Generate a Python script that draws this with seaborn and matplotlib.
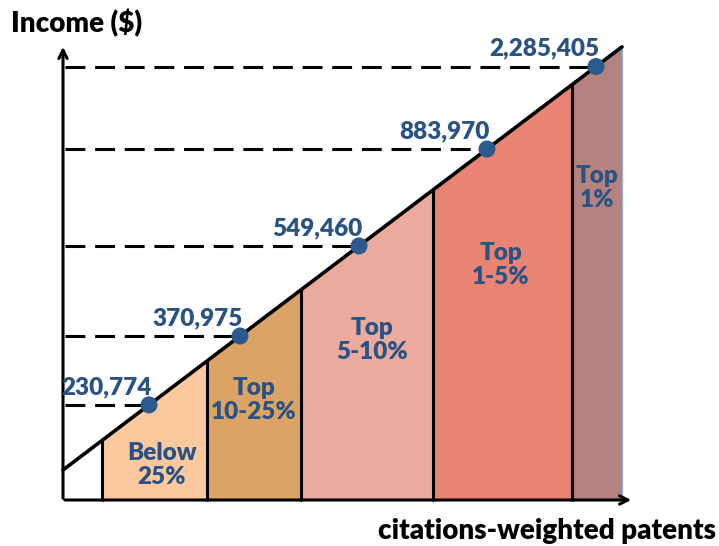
import numpy as np
import pandas as pd
import seaborn as sns
import matplotlib.pyplot as plt

sns.set_theme(style="white")
plt.rcParams['font.family'] = ['Lato', 'DejaVu Sans']

# schematic income line: income = intercept + slope * patents (drawing units)
line_intercept = 30
line_slope = 0.757
line_end = 559

# group boundaries along the patents axis
group_edges = [0, 39, 144, 238, 370, 509, 559]
group_names = ["", "Below\n25%", "Top\n10-25%", "Top\n5-10%", "Top\n1-5%", "Top\n1%"]
group_colors = ["#FFFFFF", "#FCC99E", "#DBA466", "#EAAA9E", "#E98373", "#B5837F"]

# income thresholds marked on the line
point_patents = [86, 177, 296, 424, 533]
point_labels = ["230,774", "370,975", "549,460", "883,970", "2,285,405"]

# layout of the group captions
caption_x = [None, 99, 191, 309, 438, 534]
caption_y = [None, 35, 100, 160, 235, 312]

blue = "#2B5284"
wt = 'heavy'


def income_at(x):
    return line_intercept + line_slope * np.asarray(x, dtype=float)


fig = plt.figure(figsize=(7.19, 5.46), dpi=100)
ax = fig.add_axes([0, 0, 1, 1])
ax.set_xlim(-63, 656)
ax.set_ylim(-46, 500)
ax.axis('off')

# filled groups under the line
for i in range(len(group_edges) - 1):
    xs = np.array([group_edges[i], group_edges[i + 1]])
    ax.fill_between(xs, 0, income_at(xs), color=group_colors[i], lw=0, zorder=1)
    if group_names[i]:
        ax.text(caption_x[i], caption_y[i], group_names[i], ha='center', va='center',
                color=blue, fontsize=17.5, fontweight=wt, linespacing=1.15, zorder=5)

# dividers
for x in group_edges[1:-1]:
    ax.plot([x, x], [0, income_at(x)], color='black', lw=2.2, zorder=3)
ax.plot([group_edges[-1]] * 2, [0, income_at(group_edges[-1])], color='#8FB3D9', lw=0.9, zorder=3)

# income line
line_df = pd.DataFrame({'patents': [0, line_end]})
line_df['income'] = income_at(line_df['patents'])
sns.lineplot(data=line_df, x='patents', y='income', color='black', lw=2.6, ax=ax, zorder=4)

# dashed guides and points
pts = pd.DataFrame({'patents': point_patents, 'label': point_labels})
pts['income'] = income_at(pts['patents'])
ax.hlines(pts['income'], 2, pts['patents'], colors='black', lw=2.2,
          linestyles=(0, (6.5, 3.2)), zorder=2)
sns.scatterplot(data=pts, x='patents', y='income', color='#2A5A8E', s=150,
                edgecolor='none', ax=ax, zorder=6)
for _, r in pts.iterrows():
    ax.text(r['patents'] + 3, r['income'] + 7, r['label'], ha='right', va='bottom',
            color=blue, fontsize=17.5, fontweight=wt, zorder=7)

# axes with arrows
ax.annotate('', xy=(0, 456), xytext=(0, -1),
            arrowprops=dict(arrowstyle='->,head_length=0.5,head_width=0.25', lw=2.2, color='black'))
ax.annotate('', xy=(571, 0), xytext=(-1, 0),
            arrowprops=dict(arrowstyle='->,head_length=0.5,head_width=0.25', lw=2.2, color='black'))

ax.text(-52, 477, "Income ($)", ha='left', va='center', fontsize=20, fontweight=wt, color='black')
ax.text(653, -31, "citations-weighted patents", ha='right', va='center',
        fontsize=20, fontweight=wt, color='black')

fig.savefig('out.png', dpi=100)
